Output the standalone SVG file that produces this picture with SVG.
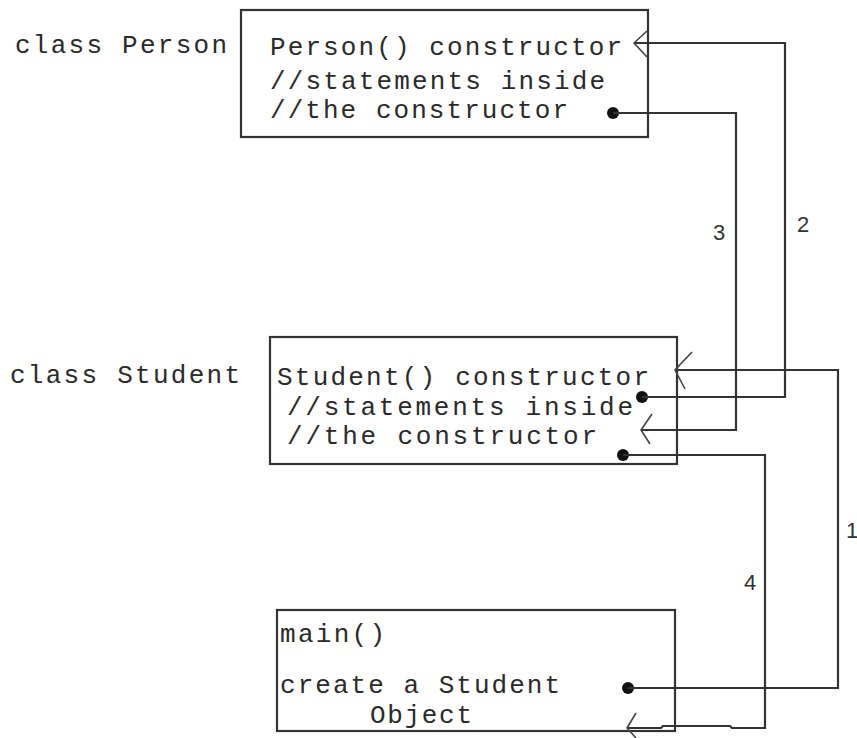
<svg xmlns="http://www.w3.org/2000/svg" width="857" height="738" viewBox="0 0 857 738">
<style>
.box{fill:#fff;stroke:#333;stroke-width:2.2}
.t{font-family:"Liberation Mono","Courier New",monospace;font-size:26px;fill:#2a2a2a}
.n{font-family:"Liberation Sans",Arial,sans-serif;font-size:22px;fill:#333}
.ln{fill:none;stroke:#333;stroke-width:2.2}
.ar{fill:none;stroke:#444;stroke-width:1.6}
.dot{fill:#111}
</style>
<rect width="857" height="738" fill="#fff"/>
<g id="person">
<text class="t" x="15" y="53" textLength="212" lengthAdjust="spacing">class Person</text>
<rect class="box" x="241" y="10" width="407" height="127"/>
<text class="t" x="270" y="55" textLength="352" lengthAdjust="spacing">Person() constructor</text>
<text class="t" x="270" y="89" textLength="335" lengthAdjust="spacing">//statements inside</text>
<text class="t" x="270" y="118" textLength="298" lengthAdjust="spacing">//the constructor</text>
</g>
<g id="student">
<text class="t" x="10" y="383" textLength="230" lengthAdjust="spacing">class Student</text>
<rect class="box" x="270" y="337" width="407" height="127"/>
<text class="t" x="277" y="385" textLength="372" lengthAdjust="spacing">Student() constructor</text>
<text class="t" x="287" y="415" textLength="346" lengthAdjust="spacing">//statements inside</text>
<text class="t" x="287" y="444" textLength="310" lengthAdjust="spacing">//the constructor</text>
</g>
<g id="main">
<rect class="box" x="277" y="610" width="398" height="121"/>
<text class="t" x="280" y="642" textLength="105" lengthAdjust="spacing">main()</text>
<text class="t" x="280" y="693" textLength="280" lengthAdjust="spacing">create a Student</text>
<text class="t" x="370" y="723" textLength="102" lengthAdjust="spacing">Object</text>
</g>
<g id="connectors">
<!-- 1: main -> Student constructor -->
<circle class="dot" cx="628" cy="688" r="6"/>
<polyline class="ln" points="628,688 838,688 838,370 675,370"/>
<polyline class="ar" points="692,352 675,370 685,389"/>
<text class="n" x="846" y="538">1</text>
<!-- 2: Student -> Person constructor -->
<circle class="dot" cx="642" cy="397" r="6"/>
<polyline class="ln" points="642,397 785,397 785,43 634,43"/>
<polyline class="ar" points="647,31 634,43 647,57"/>
<text class="n" x="797" y="232">2</text>
<!-- 3: Person end -> back to Student -->
<circle class="dot" cx="613" cy="113" r="6"/>
<polyline class="ln" points="613,113 736,113 736,430 641,430"/>
<polyline class="ar" points="652,414 641,430 650,444"/>
<text class="n" x="713" y="240">3</text>
<!-- 4: Student end -> back to main -->
<circle class="dot" cx="623" cy="455" r="6"/>
<polyline class="ln" points="623,455 765,455 765,728 732,728 730,726 663,726 661,728 628,728"/>
<polyline class="ar" points="636,713 627,728 636,738"/>
<text class="n" x="744" y="590">4</text>
</g>
</svg>
